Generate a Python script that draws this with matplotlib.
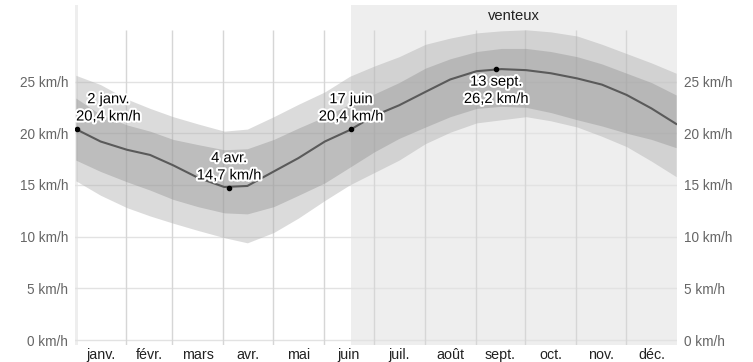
import matplotlib.pyplot as plt
import matplotlib.patheffects as pe

plt.rcParams['font.family'] = ['Liberation Sans', 'DejaVu Sans']

# days of the year (0 = 1 janv.) where values were read
days = [0, 15, 31, 45, 59, 74, 90, 104, 120, 135, 151, 166, 181, 196, 212, 227,
        243, 258, 273, 288, 304, 319, 334, 349, 364]
mean = [20.4, 19.2, 18.4, 17.9, 16.9, 15.7, 14.8, 14.9, 16.3, 17.6, 19.2, 20.3, 21.7,
        22.7, 24.0, 25.2, 26.0, 26.2, 26.1, 25.8, 25.3, 24.7, 23.7, 22.4, 20.9]
p75 = [23.4, 21.8, 20.8, 20.2, 19.4, 18.9, 18.4, 18.5, 19.4, 20.5, 21.6, 22.8, 23.8,
       24.9, 26.3, 27.2, 27.9, 28.2, 28.2, 27.9, 27.4, 26.7, 25.8, 24.9, 23.7]
p90 = [25.6, 24.7, 23.3, 22.4, 21.6, 20.9, 20.2, 20.4, 21.6, 22.8, 24.0, 25.5, 26.5,
       27.4, 28.6, 29.2, 29.7, 29.9, 30.0, 29.8, 29.4, 28.6, 27.7, 26.8, 25.8]
p25 = [17.4, 16.3, 15.3, 14.5, 13.6, 12.9, 12.3, 12.2, 12.9, 14.0, 15.2, 16.7, 18.2,
       19.5, 20.6, 21.6, 22.4, 22.6, 22.5, 22.0, 21.3, 20.7, 20.0, 19.4, 18.6]
p10 = [15.4, 14.0, 12.8, 12.0, 11.3, 10.6, 9.9, 9.4, 10.4, 11.8, 13.5, 15.0, 16.2,
       17.4, 19.0, 20.1, 21.0, 21.3, 21.6, 21.2, 20.6, 19.7, 18.7, 17.3, 15.8]

month_starts = [0, 31, 59, 90, 120, 151, 181, 212, 243, 273, 304, 334, 365]
month_labels = ['janv.', 'févr.', 'mars', 'avr.', 'mai', 'juin', 'juil.', 'août',
                'sept.', 'oct.', 'nov.', 'déc.']
y_ticks = [0, 5, 10, 15, 20, 25]

# windy season (wraps round the year)
windy = [(0, 1.8), (167.5, 365)]

# annotated points: day index, value, label
notes = [(1, 20.4, '2 janv.\n20,4 km/h', 'above_left'),
         (93, 14.7, '4 avr.\n14,7 km/h', 'above'),
         (167, 20.4, '17 juin\n20,4 km/h', 'above'),
         (255, 26.2, '13 sept.\n26,2 km/h', 'below')]

fig = plt.figure(figsize=(7.53, 3.62), dpi=100)
ax = fig.add_axes([75 / 753, 1 - 345 / 362, 602 / 753, 340 / 362])
ax.set_xlim(0, 365)
ax.set_ylim(-0.48, 32.4)

for a, b in windy:
    ax.axvspan(a, b, color='#eeeeee', lw=0, zorder=0)

for y in y_ticks:
    ax.axhline(y, color='#e2e2e2', lw=1, zorder=1)
ax.vlines(month_starts[1:-1], -0.48, 30, color='#d6d6d6', lw=1, zorder=1)

x = [d + 0.5 for d in days]
ax.fill_between(x, p10, p90, color='#b0b0b0', alpha=0.45, lw=0, zorder=2)
ax.fill_between(x, p25, p75, color='#909090', alpha=0.4, lw=0, zorder=3)
ax.plot(x, mean, color='#5a5a5a', lw=1.5, zorder=4)

halo = [pe.withStroke(linewidth=3, foreground='white')]
for d, v, txt, pos in notes:
    ax.plot(d + 0.5, v, 'o', color='black', ms=3, zorder=5)
    if pos == 'above_left':
        ax.annotate(txt, (d + 0.5, v), xytext=(-1, 4), textcoords='offset points',
                    ha='left', va='bottom', multialignment='center', fontsize=10.6,
                    path_effects=halo, zorder=6, linespacing=1.3)
    elif pos == 'above':
        ax.annotate(txt, (d + 0.5, v), xytext=(0, 4), textcoords='offset points',
                    ha='center', va='bottom', multialignment='center', fontsize=10.6,
                    path_effects=halo, zorder=6, linespacing=1.3)
    else:
        ax.annotate(txt, (d + 0.5, v), xytext=(0, -4), textcoords='offset points',
                    ha='center', va='top', multialignment='center', fontsize=10.6,
                    path_effects=halo, zorder=6, linespacing=1.3)

ax.text((windy[1][0] + windy[1][1]) / 2, 31.3, 'venteux', ha='center', va='center',
        fontsize=10.6, color='#222222', zorder=6)

ax.set_yticks(y_ticks)
ax.set_yticklabels([f'{t} km/h' for t in y_ticks])
ax.set_xticks([(month_starts[i] + month_starts[i + 1]) / 2 for i in range(12)])
ax.set_xticklabels(month_labels)
ax.tick_params(axis='y', length=0, pad=5, labelsize=9.8, labelcolor='#666666',
               labelright=True)
ax.tick_params(axis='x', length=0, pad=2, labelsize=10.3, labelcolor='#222222')
for s in ax.spines.values():
    s.set_visible(False)

fig.savefig('out.png', dpi=100)
